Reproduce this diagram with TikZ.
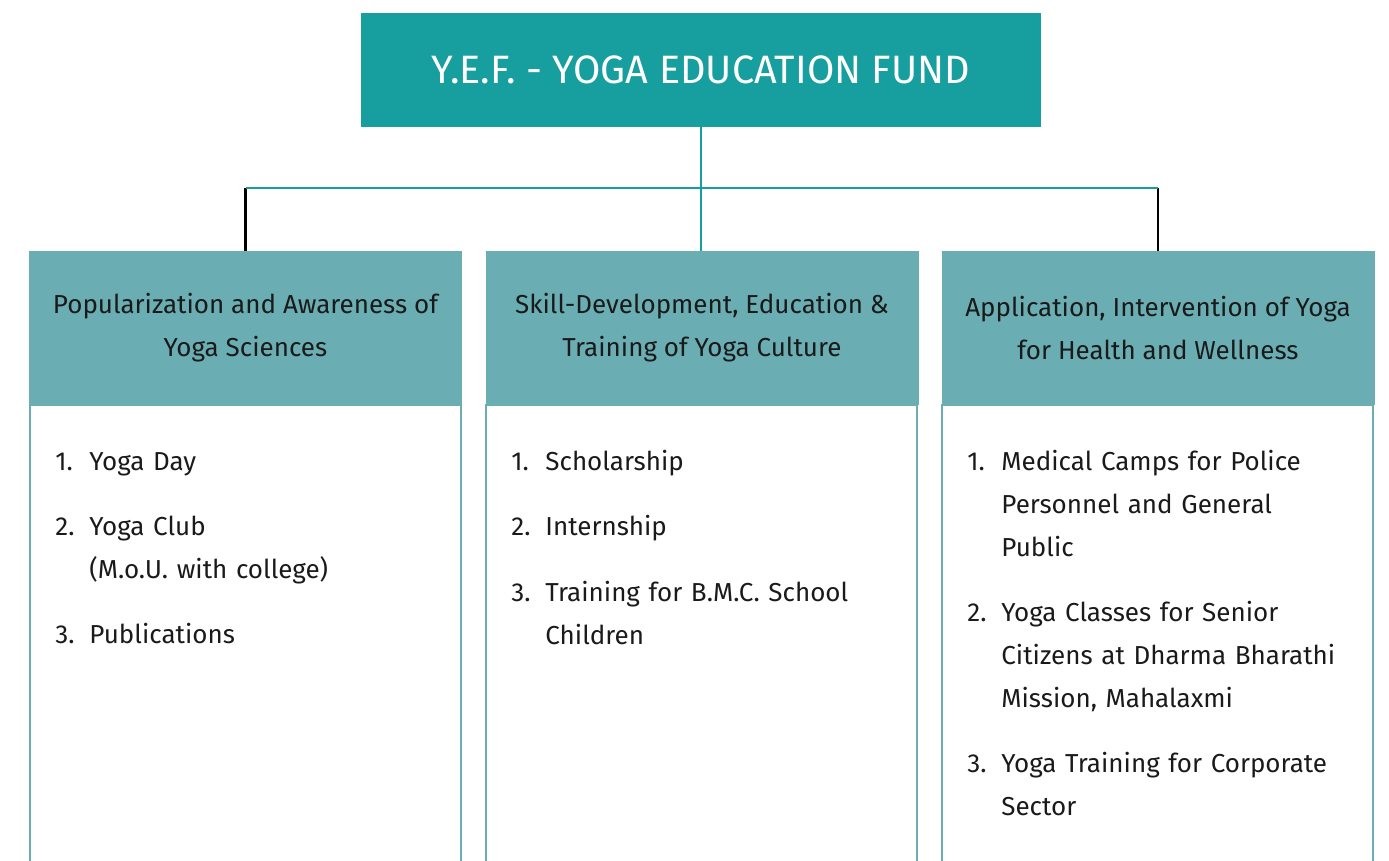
\documentclass[tikz,border=0pt]{standalone}
\usepackage{fontspec}
\setmainfont{Fira Sans}
\usetikzlibrary{positioning}

\definecolor{yefteal}{HTML}{179E9F}
\definecolor{yefhead}{HTML}{6AAEB3}
\definecolor{yeftext}{HTML}{1A1A1A}

\tikzset{
  titlebox/.style={fill=yefteal, text=white, minimum width=340pt, minimum height=57pt,
    inner sep=0pt, font=\fontsize{19.8}{24}\selectfont},
  headbox/.style={fill=yefhead, text=yeftext, minimum width=216.5pt, minimum height=77pt,
    inner sep=0pt, align=center, font=\fontsize{13}{21.5}\selectfont},
  num/.style={anchor=base west, inner sep=0pt, text=yeftext, font=\fontsize{13}{21.5}\selectfont},
  item/.style={anchor=base west, inner sep=0pt, text=yeftext, text width=170pt, align=left,
    font=\fontsize{13}{21.5}\selectfont},
  link/.style={draw=yefteal, line width=1pt},
  drop/.style={draw=black, line width=1.2pt},
  column/.style={draw=yefhead, line width=1pt}
}

\begin{document}
\begin{tikzpicture}[x=0.5pt, y=-0.5pt]
\useasboundingbox (0,0) rectangle (1389,861);
\clip (0,0) rectangle (1389,861);

% Title
\node[titlebox] (title) at (701,70) {Y.E.F. - YOGA EDUCATION FUND};

% Column heads
\node[headbox] (head1) at (245.5,328) {Popularization and Awareness of\\Yoga Sciences};
\node[headbox] (head2) at (702,328) {Skill-Development, Education \&\\Training of Yoga Culture};
\node[headbox] (head3) at (1158,328) {Application, Intervention of Yoga\\for Health and Wellness};

% Column bodies
\draw[column] (head1.south west) ++(1,0) rectangle (461,900);
\draw[column] (head2.south west) ++(1,0) rectangle (917,900);
\draw[column] (head3.south west) ++(1,0) rectangle (1373,900);

% Connectors
\coordinate (hub) at (701,188);
\draw[drop] (head1.north |- hub) -- (head1.north);
\draw[drop] (head3.north |- hub) -- (head3.north);
\draw[link] (head1.north |- hub) -- (head3.north |- hub);
\draw[link] (title.south) -- (title.south |- head2.north);

% Items, first column
\node[num] (n11) at (55,471) {1.};
\node[item] (i11) at (89,471) {Yoga Day};
\node[num] (n12) at (55,536) {2.};
\node[item] (i12) at (89,536) {Yoga Club\\(M.o.U. with college)};
\node[num] (n13) at (55,644) {3.};
\node[item] (i13) at (89,644) {Publications};

% Items, second column
\node[num] (n21) at (511,471) {1.};
\node[item] (i21) at (545,471) {Scholarship};
\node[num] (n22) at (511,536) {2.};
\node[item] (i22) at (545,536) {Internship};
\node[num] (n23) at (511,602) {3.};
\node[item] (i23) at (545,602) {Training for B.M.C. School\\Children};

% Items, third column
\node[num] (n31) at (967,471) {1.};
\node[item] (i31) at (1001,471) {Medical Camps for Police\\Personnel and General\\Public};
\node[num] (n32) at (967,622) {2.};
\node[item] (i32) at (1001,622) {Yoga Classes for Senior\\Citizens at Dharma Bharathi\\Mission, Mahalaxmi};
\node[num] (n33) at (967,772) {3.};
\node[item] (i33) at (1001,772) {Yoga Training for Corporate\\Sector};
\end{tikzpicture}
\end{document}
